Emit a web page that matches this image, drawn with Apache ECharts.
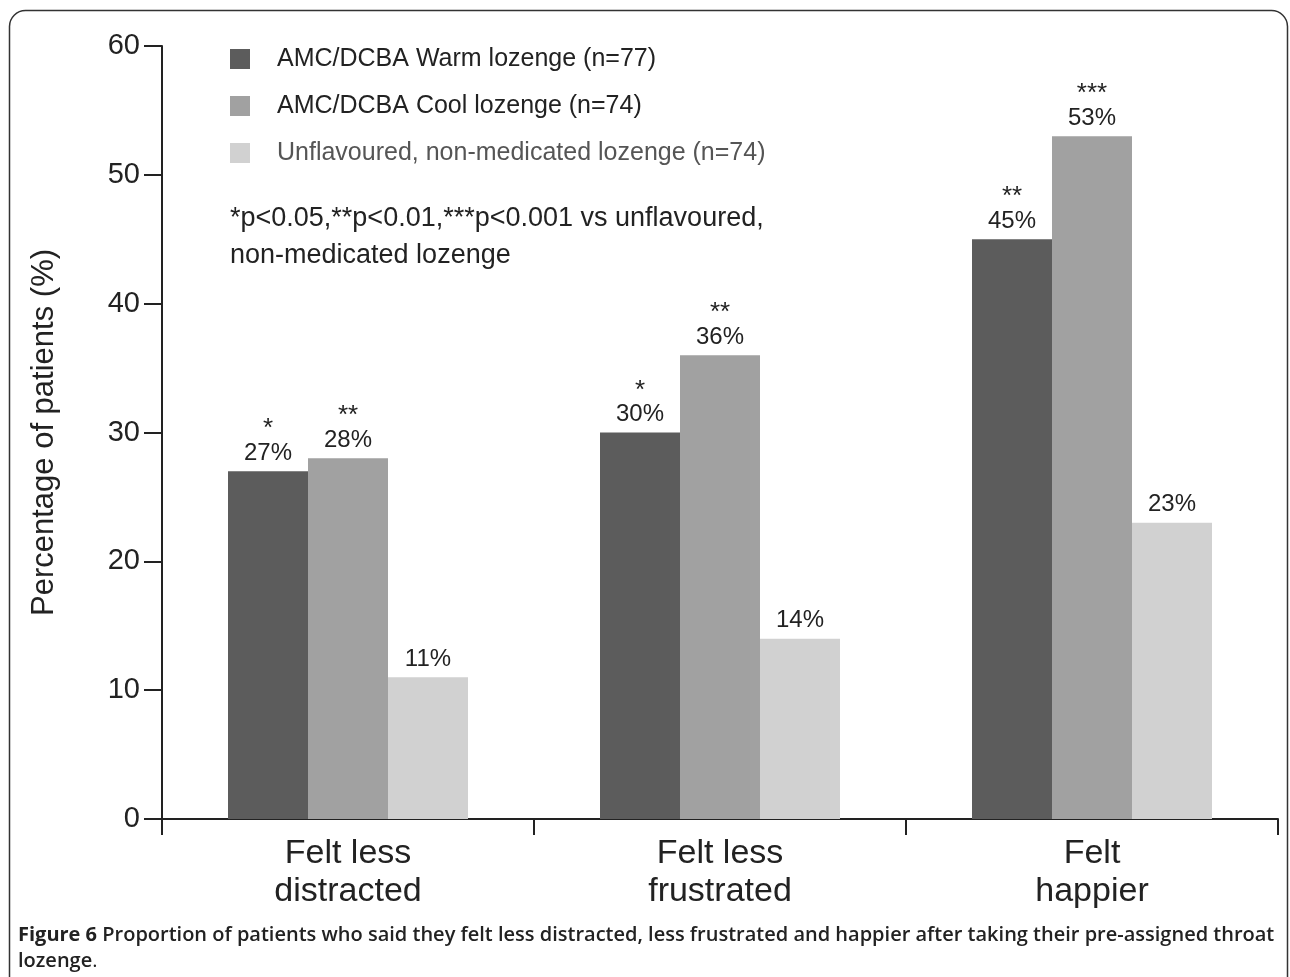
<!DOCTYPE html>
<html><head><meta charset="utf-8">
<script src="https://cdn.jsdelivr.net/npm/echarts@6/dist/echarts.min.js"></script>
<style>html,body{margin:0;padding:0;background:#fff}#c{width:1290px;height:977px}</style>
</head><body><div id="c"></div>
<script>
const categories = ['Felt less\ndistracted', 'Felt less\nfrustrated', 'Felt\nhappier'];
const seriesNames = ['AMC/DCBA Warm lozenge (n=77)', 'AMC/DCBA Cool lozenge (n=74)', 'Unflavoured, non-medicated lozenge (n=74)'];
const warmValues = [27, 30, 45];
const coolValues = [28, 36, 53];
const unflavouredValues = [11, 14, 23];
const warmStars = ['*', '*', '**'];
const coolStars = ['**', '**', '***'];
const unflavouredStars = ['', '', ''];
const yTicks = [0, 10, 20, 30, 40, 50, 60];
const noteLines = ['*p<0.05,**p<0.01,***p<0.001 vs unflavoured,', 'non-medicated lozenge'];
const captionBold = 'Figure 6';
const captionText = ' Proportion of patients who said they felt less distracted, less frustrated and happier after taking their pre-assigned throat';
const captionLine2 = 'lozenge';

const colors = ['#5c5c5c', '#a1a1a1', '#d1d1d1'];
const sans = '"Liberation Sans", Arial, sans-serif';

function makeSeries(name, values, stars, color) {
  return {
    name: name, type: 'bar', data: values, barWidth: 80, barGap: '0%',
    itemStyle: { color: color },
    label: {
      show: true, position: 'top', distance: 5,
      formatter: p => (stars[p.dataIndex] ? '{s|' + stars[p.dataIndex] + '}\n' : '') + '{v|' + p.value + '%}',
      rich: {
        s: { fontFamily: sans, fontSize: 26, color: '#222', lineHeight: 22, align: 'center' },
        v: { fontFamily: sans, fontSize: 24, color: '#222', lineHeight: 26, align: 'center' }
      }
    }
  };
}

const chart = echarts.init(document.getElementById('c'), null, { renderer: 'canvas' });
chart.setOption({
  animation: false,
  backgroundColor: '#fff',
  grid: { left: 162, right: 12, top: 46, bottom: 158, containLabel: false },
  legend: {
    orient: 'vertical', left: 230, top: 45, padding: 0, itemWidth: 20, itemHeight: 20, itemGap: 19,
    icon: 'rect',
    textStyle: { fontFamily: sans, fontSize: 25, lineHeight: 28, color: '#222', padding: [0, 0, 0, 22] },
    data: [
      { name: seriesNames[0] },
      { name: seriesNames[1] },
      { name: seriesNames[2], textStyle: { color: '#555' } }
    ]
  },
  xAxis: {
    type: 'category', data: categories,
    axisLine: { lineStyle: { color: '#222', width: 2 } },
    axisTick: { show: true, length: 16, lineStyle: { color: '#222', width: 2 } },
    axisLabel: { fontFamily: sans, fontSize: 34, color: '#222', lineHeight: 38, margin: 16 }
  },
  yAxis: {
    type: 'value', min: yTicks[0], max: yTicks[yTicks.length - 1], interval: 10,
    name: 'Percentage of patients (%)', nameLocation: 'middle', nameGap: 102,
    nameTextStyle: { fontFamily: sans, fontSize: 31, color: '#222' },
    axisLine: { show: true, lineStyle: { color: '#222', width: 2 } },
    axisTick: { show: true, length: 18, lineStyle: { color: '#222', width: 2 } },
    splitLine: { show: false },
    axisLabel: { fontFamily: sans, fontSize: 29, color: '#222', margin: 22 }
  },
  series: [
    makeSeries(seriesNames[0], warmValues, warmStars, colors[0]),
    makeSeries(seriesNames[1], coolValues, coolStars, colors[1]),
    makeSeries(seriesNames[2], unflavouredValues, unflavouredStars, colors[2])
  ],
  graphic: [
    { type: 'rect', shape: { x: 9.5, y: 10.5, width: 1278, height: 1100, r: 16 },
      style: { fill: 'none', stroke: '#333', lineWidth: 1.5 }, silent: true },
    { type: 'text', left: 230, top: 200,
      style: { text: noteLines.join('\n'), fontFamily: sans, fontSize: 27, lineHeight: 37, fill: '#222' } },
    { type: 'text', left: 18, top: 925,
      style: {
        text: '{b|' + captionBold + '}{n|' + captionText + '}\n{n|' + captionLine2 + '}{d|.}',
        rich: {
          b: { fontFamily: '"Open Sans", sans-serif', fontWeight: 'bold', fontSize: 20, fill: '#222', lineHeight: 26 },
          n: { fontFamily: '"Open Sans", sans-serif', fontWeight: 600, fontSize: 20, fill: '#222', lineHeight: 26 },
          d: { fontFamily: '"Open Sans", sans-serif', fontSize: 20, fill: '#222', lineHeight: 26 }
        }
      } }
  ]
});
</script></body></html>
